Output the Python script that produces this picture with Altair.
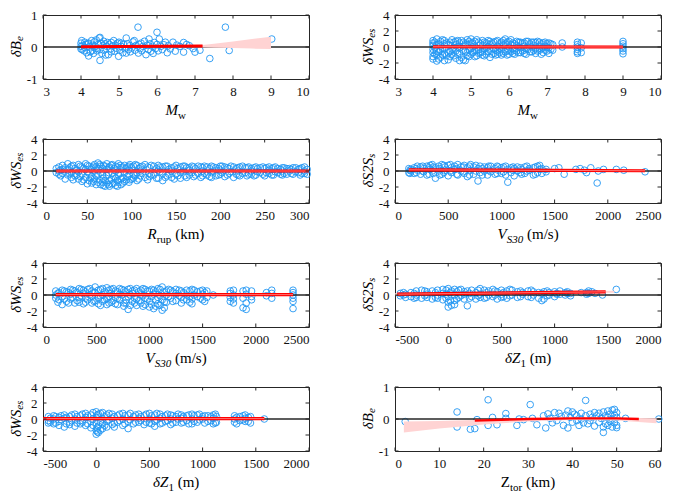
import altair as alt
import pandas as pd

FONT = "Liberation Serif"
AX = "#262626"
BLUE = "#2196f3"
W, H = 266, 64

# ---------------- data ----------------
# Panel 1: dB_e vs Mw
mw_dbe = [(4.0,0.12),(4.0,0.02),(4.0,-0.06),(4.02,0.2),(4.03,-0.08),(4.05,0.05),(4.08,-0.12),(4.1,0.15),(4.1,-0.02),
          (4.12,0.08),(4.15,-0.18),(4.18,0.1),(4.2,-0.28),(4.2,0.12),(4.22,0.0),(4.25,-0.15),(4.28,0.2),(4.3,0.05),
          (4.3,-0.1),(4.33,-0.2),(4.35,0.16),(4.38,0.02),(4.4,-0.05),(4.4,0.22),(4.42,-0.12),(4.45,0.08),(4.48,0.28),
          (4.5,-0.42),(4.5,0.3),(4.5,-0.08),(4.52,0.12),(4.55,-0.2),(4.58,0.05),(4.6,-0.1),(4.6,0.18),(4.63,0.1),
          (4.65,-0.25),(4.68,0.02),(4.7,0.14),(4.72,-0.24),(4.75,0.08),(4.78,-0.06),(4.8,0.14),(4.8,-0.15),(4.83,0.03),
          (4.86,0.2),(4.89,-0.13),(4.9,0.06),(4.93,-0.04),(4.96,0.12),(4.99,-0.29),(5.0,0.15),(5.02,-0.1),(5.05,0.02),
          (5.06,0.12),(5.1,-0.18),(5.12,0.08),(5.15,-0.05),(5.19,0.28),(5.19,-0.19),(5.22,0.1),(5.25,-0.08),(5.28,0.04),
          (5.3,-0.15),(5.34,-0.03),(5.37,0.16),(5.4,0.2),(5.42,-0.1),(5.45,0.05),(5.5,0.62),(5.51,-0.19),(5.53,0.08),
          (5.56,-0.05),(5.58,0.12),(5.6,-0.12),(5.63,0.02),(5.67,0.18),(5.71,-0.24),(5.74,0.05),(5.77,-0.08),(5.79,0.25),
          (5.82,0.1),(5.84,-0.13),(5.88,0.02),(5.9,-0.2),(5.93,0.14),(5.96,-0.05),(6.0,0.46),(6.0,0.08),(6.03,-0.12),
          (6.06,0.25),(6.1,0.02),(6.14,-0.08),(6.18,0.07),(6.22,0.15),(6.27,-0.18),(6.3,0.04),(6.35,-0.06),(6.42,0.15),
          (6.48,-0.13),(6.52,0.06),(6.6,0.02),(6.7,0.14),(6.7,-0.16),(6.78,0.08),(6.85,0.04),(6.95,-0.05),(7.0,-0.16),
          (7.13,-0.1),(7.39,-0.36),(7.8,0.62),(7.9,-0.11),(9.02,0.25)]
mw_band_x = [4, 7, 7.5, 8, 8.5, 9]
mw_band_lo = [-0.01, -0.01, -0.02, -0.03, -0.05, -0.06]
mw_band_hi = [0.03, 0.04, 0.1, 0.17, 0.25, 0.32]
mw_line_x = [4, 7.2]
mw_line_y = [0.01, 0.03]

# Panel 2: dWS_es vs Mw
mw_dws = {4.0:[0.8,0.5,0.2,-0.3,-0.7,-1.2,-1.5], 4.05:[0.6,-0.1,-0.9], 4.1:[1.0,0.3,-0.5,-1.0,-1.75],
          4.15:[0.4,-0.6,-1.5], 4.2:[0.7,0.1,-0.4,-1.3], 4.25:[0.9,-0.2,-1.0], 4.3:[0.8,0.4,-0.2,-0.8,-1.7],
          4.35:[0.5,-1.1], 4.4:[0.3,-0.7,-1.6], 4.45:[0.6,0.2,-0.6,-1.2], 4.5:[0.9,-0.3,-0.9], 4.55:[0.6,-0.1,-1.1],
          4.6:[0.7,0.3,-0.5,-1.4], 4.65:[0.8,0.0,-0.9], 4.7:[0.5,-0.1,-0.8,-1.7], 4.75:[0.8,-1.3],
          4.8:[0.6,0.1,-0.4,-1.6], 4.85:[0.4,-0.5,-1.7], 4.9:[0.9,0.3,-0.7,-1.1], 4.95:[0.7,-0.3,-1.2],
          5.0:[1.0,0.5,-0.2,-0.9], 5.05:[0.5,0.0,-0.7], 5.1:[0.7,0.1,-0.5,-1.2], 5.15:[0.9,-0.4,-1.1],
          5.2:[0.6,-0.3,-0.8], 5.25:[0.4,-0.7], 5.3:[0.8,0.2,-0.6,-1.0], 5.35:[0.6,-0.2,-1.1], 5.4:[0.5,-0.1,-0.9],
          5.45:[0.8,0.0,-0.6], 5.5:[0.7,0.3,-0.4,-1.3], 5.55:[0.5,-0.9], 5.6:[0.6,-0.2,-0.8], 5.65:[0.7,-0.4,-1.0],
          5.7:[0.8,0.1,-0.5,-0.9], 5.75:[0.4,-0.1,-0.7], 5.8:[0.6,-0.3,-1.0], 5.85:[0.8,0.2,-0.8], 5.9:[1.0,0.4,-0.6],
          5.95:[0.6,-0.5,-1.0], 6.0:[0.7,0.0,-0.4,-0.9], 6.05:[0.9,0.3,-0.6], 6.1:[0.5,-0.2,-0.8], 6.15:[0.4,-0.4,-0.9],
          6.2:[0.7,0.2,-0.5], 6.25:[0.6,0.0,-0.7], 6.3:[0.6,-0.1,-0.7], 6.35:[0.5,-0.5], 6.4:[0.5,0.1,-0.4,-0.8],
          6.45:[0.7,-0.2,-0.9], 6.5:[0.7,-0.3], 6.55:[0.4,-0.6], 6.6:[0.6,0.0,-0.6], 6.65:[0.6,0.2,-0.4],
          6.7:[0.5,-0.2,-0.8], 6.75:[0.7,-0.5], 6.8:[0.6,0.1,-0.4], 6.85:[0.4,-0.2,-0.9], 6.9:[0.5,-0.1,-0.7],
          6.95:[0.6,0.1,-0.4], 7.0:[0.4,0.0,-0.5], 7.05:[0.5,-0.1,-0.8], 7.1:[0.4,-0.3], 7.15:[0.3,-0.4],
          7.4:[0.5,0.0], 7.8:[0.6,0.3,0.0,-0.3,-0.6,-0.8], 7.9:[0.5,-0.1,-0.7], 9.0:[0.7,0.4,0.1,-0.2,-0.5,-0.85]}
mw2_line_x = [4, 9]
mw2_line_y = [0.03, 0.0]

# Panel 3: dWS_es vs Rrup
rrup_dws = {15:[0.3,-0.2], 18:[0.5,0.0,-0.4], 22:[0.7,0.2,-0.3], 25:[-1.0,0.4], 28:[0.9,-0.5,0.1], 32:[0.6,-0.2,-0.8],
            36:[0.3,-0.6], 40:[0.8,-0.1,-1.0], 44:[0.5,-0.4,-1.3], 48:[0.9,0.2,-0.8], 52:[0.6,-0.3,-1.2],
            55:[0.4,-0.7,-1.5], 58:[0.8,0.0,-1.0], 62:[1.0,0.3,-0.5,-1.4], 65:[0.6,-0.2,-1.7], 68:[0.7,-0.9,-1.8],
            72:[0.9,0.2,-0.6,-1.5], 75:[0.5,-1.2,-1.9], 78:[0.8,-0.3,-1.6], 82:[0.6,0.0,-0.9,-1.8], 85:[0.9,-0.5,-1.4],
            88:[0.4,-1.0,-1.7], 92:[0.7,-0.2,-1.3], 95:[0.5,-0.7], 98:[0.8,0.1,-1.1], 102:[0.6,-0.4,-0.9],
            106:[0.7,-0.2,-1.2], 110:[0.5,0.0,-0.6], 115:[0.8,-0.8], 120:[0.4,-0.3,-0.7], 125:[0.6,-0.5],
            130:[0.7,0.1,-0.9], 135:[0.5,-0.3,-1.2], 140:[0.6,-0.6], 145:[0.4,0.0,-0.8], 150:[0.7,-0.4],
            155:[0.5,-0.2,-0.9], 160:[0.6,-0.6], 165:[0.4,0.1,-0.5], 170:[0.5,-0.7], 175:[0.6,-0.3],
            180:[0.4,0.0,-0.6], 185:[0.5,-0.5], 190:[0.6,-0.2,-0.8], 195:[0.4,-0.6], 200:[0.6,0.1,-0.4],
            205:[0.5,-0.7], 210:[0.3,-0.3], 215:[0.5,-0.8], 220:[0.4,0.0,-0.5], 225:[0.6,-0.3], 230:[0.4,-0.6],
            235:[0.3,0.0,-0.4], 240:[0.5,-0.5], 245:[0.4,-0.2], 250:[0.3,-0.6], 255:[0.5,0.1,-0.3], 260:[0.4,-0.5],
            265:[0.3,-0.2], 270:[0.4,0.0,-0.5], 275:[0.3,-0.4], 280:[0.2,-0.3], 285:[0.4,-0.1], 290:[0.3,-0.5],
            295:[0.5,0.0,-0.3], 298:[0.2,-0.4]}
rrup_dws_more = {20:[0.1,-0.6], 30:[0.4,-0.3], 34:[0.7,-1.1], 38:[0.1,-0.5], 42:[0.6,-0.7], 46:[0.3,-1.1],
                 50:[0.7,-0.1,-1.6], 54:[0.2,-0.9], 57:[0.6,-1.3], 60:[0.5,-0.6,-1.7], 64:[0.8,-1.1],
                 67:[0.3,-0.5,-1.4], 70:[0.6,-1.2,-1.9], 74:[0.4,-0.2,-1.7], 77:[0.7,-1.0], 80:[0.3,-0.7,-1.5],
                 84:[0.5,-1.2,-1.9], 87:[0.7,-0.3], 90:[0.5,-0.8,-1.5], 94:[0.3,-1.1], 97:[0.6,-0.5,-1.4],
                 100:[0.4,-1.0], 104:[0.8,-0.6], 108:[0.3,-1.0], 112:[0.6,-0.3], 118:[0.5,-1.1], 122:[0.7,-0.5],
                 128:[0.3,-0.9], 132:[0.5,-0.1], 138:[0.6,-0.8], 142:[0.2,-0.4], 148:[0.5,-1.0], 152:[0.3,-0.6],
                 158:[0.6,0.0], 162:[0.4,-0.8], 168:[0.6,-0.2], 172:[0.3,-0.5], 178:[0.5,-0.8], 182:[0.6,-0.3],
                 188:[0.3,-0.7], 192:[0.5,0.0], 198:[0.3,-0.5], 202:[0.6,-0.2], 208:[0.4,-0.5], 212:[0.6,-0.1],
                 218:[0.3,-0.4], 222:[0.5,-0.6], 228:[0.4,-0.2], 232:[0.5,-0.4], 238:[0.4,-0.6], 242:[0.3,-0.1],
                 248:[0.5,-0.4], 252:[0.4,-0.2], 258:[0.3,-0.5], 262:[0.5,-0.1], 268:[0.2,-0.4], 272:[0.4,-0.3],
                 278:[0.3,0.0], 282:[0.4,-0.4], 288:[0.2,-0.2], 292:[0.4,-0.3]}
rrup_line_x = [15, 300]
rrup_line_y = [0.0, 0.0]

# Panel 4: dS2S_s vs Vs30
vs_ds2s = {130:[0.3,-0.2], 150:[0.2,0.0], 180:[0.4,-0.3], 210:[0.6,0.1], 240:[0.5,-0.4], 270:[0.3,-0.1],
           300:[0.6,-0.5], 330:[0.7,0.2], 360:[0.5,-0.3], 380:[0.4,-0.9], 410:[0.6,0.0], 440:[0.8,-0.4],
           470:[0.5,0.1], 500:[0.7,-0.6], 530:[0.4,-0.2], 560:[0.6,0.2], 590:[0.8,-0.5], 620:[0.5,0.0],
           650:[0.7,-0.3], 680:[0.4,-0.7], 710:[0.8,0.1], 740:[0.5,-0.4], 780:[0.3,-1.25], 800:[0.6,-0.2],
           840:[0.5,0.0], 870:[0.4,-0.5], 900:[0.6,-0.1], 940:[0.3,-0.4], 970:[0.5,0.1], 1000:[0.4,-0.3],
           1040:[0.6,-0.5], 1060:[-1.4,0.2], 1090:[0.4,-0.2], 1120:[0.3,-0.6], 1150:[0.5,0.0], 1190:[0.2,-0.4],
           1220:[0.5,-0.3], 1260:[0.3,0.1], 1300:[0.4,-0.5], 1340:[0.6,-0.2], 1380:[0.3,-0.3], 1420:[0.2,-0.1],
           1500:[0.3], 1540:[0.4], 1590:[-0.4], 1700:[0.2], 1740:[0.3], 1780:[0.1], 1800:[-0.2], 1840:[0.4],
           1900:[-1.5], 1910:[0.0], 1960:[0.2], 2080:[0.2], 2150:[0.1], 2350:[-0.1]}
vs_ds2s_more = {140:[0.1,-0.3], 200:[0.3,-0.2], 260:[0.6,0.0], 320:[0.4,-0.4], 350:[0.8,0.0], 420:[0.3,-0.5],
                460:[0.7,-0.2], 520:[0.8,0.0], 580:[0.3,-0.4], 640:[0.5,-0.1], 700:[0.6,-0.5], 760:[0.7,0.0],
                820:[0.3,-0.5], 880:[0.6,0.1], 960:[0.6,-0.3], 1020:[0.5,-0.1], 1110:[0.5,0.1], 1180:[0.4,-0.2],
                1240:[0.6,0.0], 1320:[0.5,-0.4], 1360:[0.7,0.2]}
vs4_line_x = [130, 2350]
vs4_line_y = [0.15, 0.03]
vs4_band_x = [130, 1500, 2350]
vs4_band_lo = [0.08, 0.02, -0.06]
vs4_band_hi = [0.22, 0.15, 0.12]

# Panel 5: dWS_es vs Vs30
vs_dws = {120:[0.5,0.0,-0.4], 150:[0.3,-0.6], 180:[0.6,-0.2,-1.2], 220:[0.4,-0.8], 260:[0.7,0.1,-0.5],
          300:[0.5,-1.0], 340:[0.8,-0.3,-0.9], 380:[0.6,0.2,-1.1], 420:[0.7,-0.6], 460:[0.5,-0.2,-1.0],
          490:[1.0,0.3,-0.7], 520:[0.6,-0.4,-1.1], 560:[0.8,0.0,-0.8], 600:[0.9,-0.5,-1.2], 640:[0.7,0.2,-0.9],
          680:[0.5,-0.3,-1.1], 720:[0.8,0.1,-0.6], 760:[0.6,-1.0,-1.4], 800:[0.7,-0.2,-1.8], 840:[0.5,0.2,-0.8],
          880:[0.8,-0.5,-1.3], 920:[0.6,0.0,-1.0], 960:[0.7,-0.4,-1.2], 1000:[0.5,-0.8,-1.5], 1040:[0.6,0.1,-1.7],
          1080:[0.8,-0.3,-1.1], 1120:[1.0,-0.6,-1.9], 1160:[0.5,0.0,-0.9], 1200:[0.6,-0.4], 1250:[0.7,0.2,-0.7],
          1300:[0.5,-0.3,-1.0], 1350:[0.6,0.0,-0.6], 1400:[0.7,-0.5,-1.1], 1450:[0.4,-0.2], 1500:[0.6,0.1,-0.6],
          1540:[0.5,-0.3], 1600:[0.0], 1760:[0.5,0.2,-0.3,-0.8], 1790:[0.6,0.0,-0.5,-1.0], 1880:[0.5,-0.4,-1.6],
          1910:[0.6,0.1,-1.0,-1.8], 1960:[0.5,-0.2,-0.6], 2100:[0.3,-0.1], 2150:[0.6,0.2,-0.4],
          2350:[0.6,0.3,0.0,-0.4,-0.8,-1.7]}
vs_dws_more = {140:[0.2,-0.9], 200:[0.5,-0.5], 240:[0.3,-1.0], 280:[0.6,-0.3], 320:[0.3,-0.7], 360:[0.7,-0.1],
               400:[0.4,-0.4,-0.9], 440:[0.8,0.0], 480:[0.3,-0.8], 540:[0.7,-0.1,-1.3], 580:[0.4,-0.6],
               620:[0.6,-0.2,-1.0], 660:[0.8,-0.7], 700:[0.4,-0.4,-1.2], 740:[0.7,0.0], 780:[0.4,-0.6,-1.0],
               820:[0.8,0.0,-1.3], 860:[0.6,-0.4,-1.0], 900:[0.4,-0.7], 940:[0.8,-0.1,-1.4], 980:[0.5,-0.5],
               1020:[0.7,-0.2,-1.2], 1060:[0.4,-0.6,-1.4], 1100:[0.7,-0.1,-1.3], 1140:[0.4,-0.9,-1.6],
               1180:[0.7,-0.2], 1220:[0.4,-0.8], 1280:[0.6,-0.1], 1320:[0.3,-0.6], 1380:[0.5,-0.2,-0.9],
               1420:[0.6,0.0], 1480:[0.5,-0.4], 1520:[0.3,-0.8]}
vs5_line_x = [120, 2350]
vs5_line_y = [0.05, 0.05]

# Panel 6: dS2S_s vs dZ1
dz_ds2s = {-450:[0.2,-0.1], -400:[0.1,-0.3], -350:[0.3,-0.2], -300:[0.5,0.0,-0.3], -250:[0.6,-0.4],
           -200:[0.4,0.1,-0.3], -150:[0.5,-0.5], -100:[0.6,0.0,-0.4], -50:[0.7,0.2,-0.6], 0:[0.8,-0.2,-0.9,-1.5],
           30:[0.5,-1.3], 60:[0.7,0.0,-0.7,-1.2], 100:[0.6,-0.3], 150:[0.4,0.1,-0.5], 180:[0.5,-1.35],
           220:[0.6,-0.2], 260:[0.3,-0.5], 300:[0.8,0.1,-0.3], 340:[0.6,-0.4], 380:[0.5,0.0], 420:[0.7,-0.2],
           460:[0.4,-0.5], 500:[0.6,0.1,-0.3], 550:[0.5,-0.4], 600:[0.6,0.0], 650:[0.4,-0.3], 700:[0.3,0.1],
           750:[0.5,-0.2], 800:[0.4,0.0], 850:[0.3,-0.4], 880:[-0.7,0.2], 900:[0.4,-0.5], 950:[0.3,0.0],
           1000:[0.4,-0.2], 1050:[0.5,0.1], 1100:[0.3,0.0], 1150:[0.2,-0.1], 1250:[0.3], 1320:[0.5,0.2],
           1350:[0.4], 1450:[0.0], 1580:[0.7]}
dz_ds2s_more = {-420:[0.0,0.3], -320:[0.2,-0.4], -220:[0.5,-0.1], -120:[0.3,-0.3], -20:[0.6,-0.4,0.1],
                20:[0.3,-0.7], 80:[0.4,-0.5], 120:[0.7,-0.1], 200:[0.2,-0.4], 280:[0.6,-0.1], 360:[0.3,-0.3],
                440:[0.5,0.0], 520:[0.3,-0.2], 580:[0.7,-0.1], 680:[0.5,-0.2], 780:[0.6,-0.3], 930:[0.5,-0.1],
                1020:[0.2,0.1], 1120:[0.4,0.2], 1300:[0.3,0.1], 1380:[0.2]}
dz6_line_x = [-480, 1480]
dz6_line_y = [0.1, 0.4]
dz6_band_x = [-500, 1560]
dz6_band_lo = [-0.02, 0.27]
dz6_band_hi = [0.22, 0.52]

# Panel 7: dWS_es vs dZ1
dz_dws = {-450:[0.3,-0.2,-0.5], -400:[0.4,0.0,-0.6], -350:[0.2,-0.3,-0.8], -300:[0.5,0.1,-1.0],
          -250:[0.3,-0.4,-0.7], -200:[0.6,0.0,-0.9], -150:[0.4,-0.2,-0.6], -100:[0.7,0.2,-0.8],
          -50:[0.5,-0.3,-1.1], 0:[0.9,0.2,-0.5,-1.4,-1.9], 20:[0.6,-0.9,-1.7], 60:[0.8,0.0,-0.6,-1.2],
          100:[0.5,-0.3,-1.0], 150:[0.6,0.1,-0.7], 200:[0.4,-0.4], 250:[0.7,0.0,-0.8], 300:[0.5,-0.3,-1.2],
          350:[0.3,-0.6], 400:[0.6,0.1,-0.4], 450:[0.4,-0.7], 500:[0.7,0.0,-0.5], 550:[0.5,-0.3,-0.9],
          600:[0.6,0.1,-0.6], 650:[0.4,-0.3], 700:[0.5,0.0,-0.7], 750:[0.3,-0.4], 800:[0.5,0.1,-0.5],
          850:[0.4,-0.2], 900:[0.6,0.0,-0.6], 950:[0.5,-0.4], 1000:[0.3,0.0], 1050:[0.4,-0.3],
          1100:[0.5,0.1,-0.6], 1130:[0.3,-0.4], 1300:[0.4,0.0,-0.4], 1350:[0.3,-0.2], 1400:[0.5,0.1,-0.3],
          1450:[0.3,-0.5], 1580:[0.0]}
dz_dws_more = {-430:[0.1,-0.4], -380:[0.3,-0.5], -330:[0.4,-0.1], -280:[0.2,-0.6], -230:[0.5,-0.2],
               -180:[0.3,-0.5], -130:[0.6,-0.4], -80:[0.4,-0.6], -30:[0.8,0.0,-0.8], 10:[0.5,-1.1,-1.6],
               40:[0.7,-0.4,-1.4], 80:[0.3,-0.8], 120:[0.7,-0.1], 170:[0.3,-0.5,-1.0], 220:[0.6,-0.2],
               270:[0.4,-0.6], 320:[0.7,-0.1], 370:[0.5,-0.4], 420:[0.3,-0.2], 470:[0.6,-0.4], 520:[0.4,-0.6],
               570:[0.7,-0.1], 620:[0.3,-0.5], 670:[0.6,-0.2], 720:[0.4,-0.5], 770:[0.6,0.0], 820:[0.3,-0.4],
               870:[0.5,-0.6], 920:[0.4,-0.3], 970:[0.6,-0.1], 1020:[0.4,-0.5], 1080:[0.3,-0.2], 1120:[0.6,-0.5],
               1320:[0.2,-0.6], 1380:[0.4,-0.1], 1430:[0.2,-0.3]}
dz7_line_x = [-500, 1580]
dz7_line_y = [0.05, 0.05]

# Panel 8: dB_e vs Ztor
ztor_dbe = [(2.3,-0.08),(14,0.22),(14,-0.25),(17,-0.32),(18,-0.3),(18.5,-0.02),(21,0.6),(21,-0.2),(22,0.05),
            (23,-0.18),(25,0.17),(25,0.02),(27.5,-0.2),(28,0.0),(29,-0.02),(30.5,0.45),(31,0.02),(32,-0.18),
            (33.5,0.1),(34,-0.28),(34.5,0.16),(35,0.02),(35.5,-0.12),(36,0.2),(36.5,-0.05),(37,0.18),(37.5,0.08),
            (38,-0.2),(38.5,0.12),(39,0.25),(39,-0.28),(39.5,0.05),(40,0.22),(40,-0.1),(40.5,0.15),(41,-0.05),
            (41,0.1),(41.5,-0.2),(42,0.18),(42,0.0),(42.5,-0.12),(43,0.58),(43,0.1),(43.5,-0.15),(44,0.15),
            (44,-0.05),(44.5,0.05),(45,0.2),(45,-0.22),(45.5,0.1),(46,-0.1),(46,0.18),(46.5,0.02),(47,-0.42),
            (47,0.22),(47,-0.25),(47.5,0.1),(47.5,-0.15),(48,0.25),(48,0.05),(48,-0.2),(48.5,0.15),(48.5,-0.08),
            (49,0.28),(49,0.0),(49,-0.25),(49.5,0.3),(49.5,0.12),(49.5,-0.12),(50,0.2),(50,0.05),(50,-0.2),
            (50,-0.27),(52,0.02),(59.5,0.0)]
zt_band_x = [2, 10, 20, 30, 40, 50, 59]
zt_band_lo = [-0.42, -0.3, -0.17, -0.08, -0.03, -0.05, -0.13]
zt_band_hi = [-0.08, -0.06, -0.02, 0.02, 0.05, 0.04, 0.02]
zt_line_x = [18, 30, 40, 50, 55]
zt_line_y = [-0.05, 0.0, 0.02, 0.02, 0.0]

# tick values
mw_ticks = [3, 4, 5, 6, 7, 8, 9, 10]
rrup_ticks = [0, 50, 100, 150, 200, 250, 300]
vs_ticks = [0, 500, 1000, 1500, 2000, 2500]
dz_ticks = [-500, 0, 500, 1000, 1500, 2000]
zt_ticks = [0, 10, 20, 30, 40, 50, 60]
y1_ticks = [-1, 0, 1]
y4_ticks = [-4, -2, 0, 2, 4]


def cols(*ds):
    return [(x, y) for d in ds for x, ys in d.items() for y in ys]


LABEL_EXPR = "datum.value < 0 ? '-' + format(-datum.value, 'd') : format(datum.value, 'd')"


def axis():
    return alt.Axis(ticks=False, domain=False, grid=False, labelFont=FONT, labelFontSize=13,
                    labelColor="#111111", labelPadding=6, title=None, labelExpr=LABEL_EXPR,
                    labelOverlap=False)


def txt(s, x, y, size=15, italic=True, align="left", angle=0, baseline="alphabetic"):
    one = pd.DataFrame({"a": [0]})
    return alt.Chart(one).mark_text(
        text=s, font=FONT, fontSize=size, fontStyle="italic" if italic else "normal",
        align=align, baseline=baseline, angle=angle, color="black"
    ).encode(x=alt.value(x), y=alt.value(y))


def panel(pts, xdom, xticks, ydom, yticks, line, band, ytitle, xtitle, highlight=True, lw=3.2):
    xsc = alt.Scale(domain=xdom, nice=False, zero=False)
    ysc = alt.Scale(domain=ydom, nice=False, zero=False)
    xa = axis()
    xa.values = xticks
    ya = axis()
    ya.values = yticks
    X = lambda f: alt.X(f, scale=xsc, axis=xa)
    Y = lambda f: alt.Y(f, scale=ysc, axis=ya)
    df = pd.DataFrame(pts, columns=["x", "y"])
    layers = [
        alt.Chart(df).mark_point(shape="circle", filled=False, size=44, strokeWidth=0.9,
                                 color=BLUE, opacity=1).encode(x=X("x:Q"), y=Y("y:Q")),
        alt.Chart(pd.DataFrame({"z": [0]})).mark_rule(color=AX, strokeWidth=1.3).encode(y=Y("z:Q")),
    ]
    if band is not None:
        bdf = pd.DataFrame({"x": band[0], "lo": band[1], "hi": band[2]})
        layers.append(alt.Chart(bdf).mark_area(color="#ffd3d3", opacity=1).encode(
            x=X("x:Q"), y=Y("lo:Q"), y2="hi:Q"))
    ldf = pd.DataFrame({"x": line[0], "y": line[1]})
    layers.append(alt.Chart(ldf).mark_line(color="#ff0000", strokeWidth=lw).encode(x=X("x:Q"), y=Y("y:Q")))
    if highlight:
        layers.append(alt.Chart(ldf).mark_line(color="#ff9090", strokeWidth=0.8).encode(x=X("x:Q"), y=Y("y:Q")))
    # inward ticks
    tx = pd.DataFrame({"v": xticks})
    ty = pd.DataFrame({"v": yticks})
    layers += [
        alt.Chart(tx).mark_rule(color=AX, strokeWidth=1).encode(x=X("v:Q"), y=alt.value(H), y2=alt.value(H - 3.5)),
        alt.Chart(tx).mark_rule(color=AX, strokeWidth=1).encode(x=X("v:Q"), y=alt.value(0), y2=alt.value(3.5)),
        alt.Chart(ty).mark_rule(color=AX, strokeWidth=1).encode(y=Y("v:Q"), x=alt.value(0), x2=alt.value(3.5)),
        alt.Chart(ty).mark_rule(color=AX, strokeWidth=1).encode(y=Y("v:Q"), x=alt.value(W - 3.5), x2=alt.value(W)),
    ]
    # y title (rotated, with subscript)
    main, sub, ay = ytitle
    layers.append(txt(main, -27, ay, 15, True, "right", 270, "middle"))
    layers.append(txt(sub, -23, ay, 11, True, "left", 270, "middle"))
    # x title pieces
    for (s, x, dy, size, italic, align) in xtitle:
        layers.append(txt(s, x, H + dy, size, italic, align))
    return alt.layer(*layers).properties(width=W, height=H)


YT_B = ("δB", "e", 26.1)
YT_WS = ("δWS", "es", 22.8)
YT_S2S = ("δS2S", "s", 19.1)

XT_MW = [("M", 135, 36, 15, True, "right"), ("w", 135, 40, 11, False, "left")]
XT_R = [("R", 113.7, 36, 15, True, "right"), ("rup", 113.7, 40, 11, False, "left"),
        ("(km)", 132.2, 36, 15, False, "left")]
XT_V = [("V", 111.7, 36, 15, True, "right"), ("S30", 111.7, 40, 11, True, "left"),
        ("(m/s)", 132.0, 36, 15, False, "left")]
XT_DZ = [("δZ", 125.4, 36, 15, True, "right"), ("1", 125.4, 40, 11, False, "left"),
         ("(m)", 134.7, 36, 15, False, "left")]
XT_ZT = [("Z", 115, 36, 15, False, "right"), ("tor", 115, 40, 11, False, "left"),
         ("(km)", 131.0, 36, 15, False, "left")]

p1 = panel(mw_dbe, [3, 10], mw_ticks, [-1, 1], y1_ticks, (mw_line_x, mw_line_y),
           (mw_band_x, mw_band_lo, mw_band_hi), YT_B, XT_MW, highlight=False, lw=3)
p2 = panel(cols(mw_dws), [3, 10], mw_ticks, [-4, 4], y4_ticks, (mw2_line_x, mw2_line_y), None, YT_WS, XT_MW)
p3 = panel(cols(rrup_dws, rrup_dws_more), [0, 300], rrup_ticks, [-4, 4], y4_ticks,
           (rrup_line_x, rrup_line_y), None, YT_WS, XT_R)
p4 = panel(cols(vs_ds2s, vs_ds2s_more), [0, 2500], vs_ticks, [-4, 4], y4_ticks, (vs4_line_x, vs4_line_y),
           (vs4_band_x, vs4_band_lo, vs4_band_hi), YT_S2S, XT_V)
p5 = panel(cols(vs_dws, vs_dws_more), [0, 2500], vs_ticks, [-4, 4], y4_ticks, (vs5_line_x, vs5_line_y),
           None, YT_WS, XT_V)
p6 = panel(cols(dz_ds2s, dz_ds2s_more), [-500, 2000], dz_ticks, [-4, 4], y4_ticks, (dz6_line_x, dz6_line_y),
           (dz6_band_x, dz6_band_lo, dz6_band_hi), YT_S2S, XT_DZ)
p7 = panel(cols(dz_dws, dz_dws_more), [-500, 2000], dz_ticks, [-4, 4], y4_ticks, (dz7_line_x, dz7_line_y),
           None, YT_WS, XT_DZ)
p8 = panel(ztor_dbe, [0, 60], zt_ticks, [-1, 1], y1_ticks, (zt_line_x, zt_line_y),
           (zt_band_x, zt_band_lo, zt_band_hi), YT_B, XT_ZT, highlight=False, lw=2.4)

rows = [alt.hconcat(a, b, spacing=86, bounds="flush") for a, b in [(p1, p2), (p3, p4), (p5, p6), (p7, p8)]]
chart = alt.vconcat(*rows, spacing=10).properties(
    padding={"left": 0, "top": 0, "right": 0, "bottom": 0}
).configure_view(stroke=AX, strokeWidth=1)

chart.save("out.html", embed_options={"renderer": "svg", "actions": False})
